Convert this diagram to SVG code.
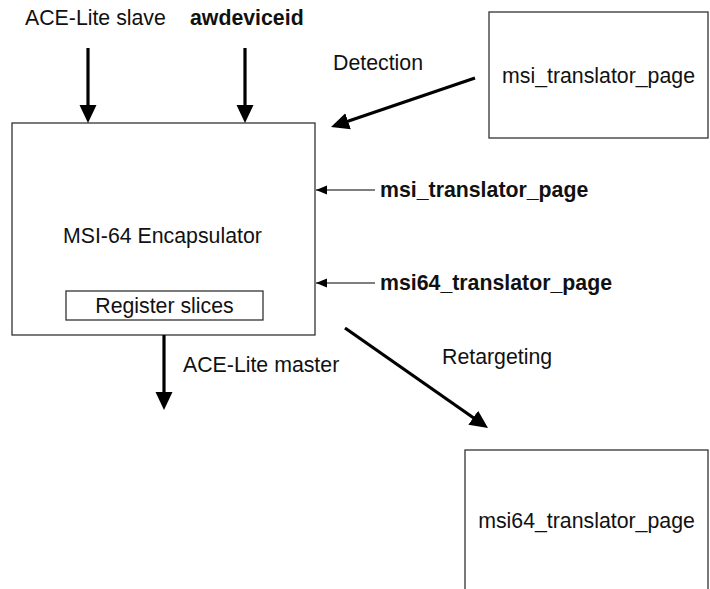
<svg xmlns="http://www.w3.org/2000/svg" width="710" height="589" viewBox="0 0 710 589">
<defs>
<style>
.box{fill:#fff;stroke:#333;stroke-width:1.3}
.t{font-family:"Liberation Sans",Arial,sans-serif;font-size:21.3px;fill:#111}
.b{font-weight:bold}
.thick{stroke:#000;stroke-width:3.2;fill:none;marker-end:url(#big)}
.thin{stroke:#000;stroke-width:1.2;fill:none;marker-end:url(#small)}
</style>
<marker id="big" markerUnits="userSpaceOnUse" markerWidth="20" markerHeight="18" refX="8" refY="8.5" orient="auto" viewBox="0 0 20 17">
<path d="M0,0 L18,8.5 L0,17 z" fill="#000"/>
</marker>
<marker id="small" markerUnits="userSpaceOnUse" markerWidth="12" markerHeight="10" refX="11" refY="4.5" orient="auto" viewBox="0 0 12 9">
<path d="M0,0 L11,4.5 L0,9 z" fill="#000"/>
</marker>
</defs>
<rect width="710" height="589" fill="#fff"/>
<g id="encapsulator">
<rect class="box" x="12" y="123" width="303" height="212"/>
<text class="t" x="63" y="243">MSI-64 Encapsulator</text>
</g>
<g id="register-slices">
<rect class="box" x="66" y="291" width="197" height="29"/>
<text class="t" x="164.5" y="313" text-anchor="middle">Register slices</text>
</g>
<g id="msi-translator-page">
<rect class="box" x="489" y="12" width="219" height="126"/>
<text class="t" x="598.5" y="83" text-anchor="middle">msi_translator_page</text>
</g>
<g id="msi64-translator-page">
<rect class="box" x="465" y="450" width="243" height="145"/>
<text class="t" x="586.5" y="528" text-anchor="middle">msi64_translator_page</text>
</g>
<g id="labels">
<text class="t" x="25" y="25">ACE-Lite slave</text>
<text class="t b" x="190" y="25">awdeviceid</text>
<text class="t" x="333" y="70">Detection</text>
<text class="t b" x="380" y="197">msi_translator_page</text>
<text class="t b" x="380" y="290">msi64_translator_page</text>
<text class="t" x="183" y="372">ACE-Lite master</text>
<text class="t" x="442" y="364">Retargeting</text>
</g>
<g id="connectors">
<line class="thick" x1="88" y1="48" x2="88" y2="113"/>
<line class="thick" x1="245" y1="48" x2="245" y2="113"/>
<line class="thick" x1="475" y1="78" x2="340.5" y2="123.8"/>
<line class="thin" x1="375" y1="190" x2="316" y2="190"/>
<line class="thin" x1="375" y1="283" x2="316" y2="283"/>
<line class="thick" x1="164" y1="335" x2="164" y2="400"/>
<line class="thick" x1="345" y1="328" x2="479.8" y2="422.3"/>
</g>
</svg>
